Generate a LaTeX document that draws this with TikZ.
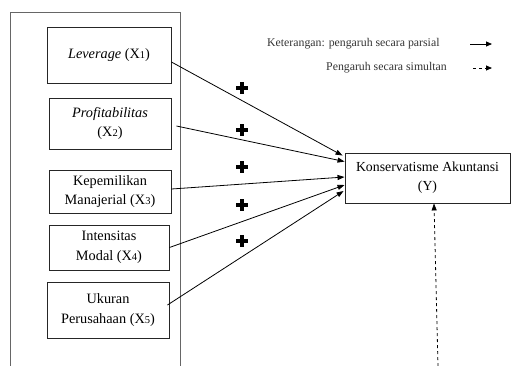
\documentclass[tikz,border=0pt]{standalone}
\usepackage{fontspec}
\setmainfont{Liberation Serif}
\usetikzlibrary{arrows.meta,calc}
\begin{document}
\begin{tikzpicture}[x=1pt,y=-1pt,
  varbox/.style={draw=black!85,line width=0.9pt,align=center,inner sep=0pt,font=\fontsize{14.3}{19.5}\selectfont},
  conn/.style={line width=0.8pt,-{Triangle[length=7pt,width=5pt]}},
  plusbar/.style={line width=4pt},
  legend/.style={font=\fontsize{11.8}{13}\selectfont,inner sep=0pt,text=black!80}]
\useasboundingbox (0,0) rectangle (511,365);
% outer frame
\draw[black!60,line width=1pt] (10,366) -- (10,12) -- (180,12) -- (180,366);
\newcommand{\sm}[1]{{\fontsize{10.5}{12}\selectfont #1}}
\node[varbox,minimum width=124pt,minimum height=56pt] (b1) at (109,55) {\textit{Leverage} (X\sm{1})};
\node[varbox,minimum width=122pt,minimum height=51pt] (b2) at (110,123.5) {\textit{Profitabilitas}\\(X\sm{2})};
\node[varbox,minimum width=122pt,minimum height=43pt] (b3) at (110,191.5) {Kepemilikan\\Manajerial (X\sm{3})};
\node[varbox,minimum width=120pt,minimum height=45pt] (b4) at (109,247.5) {Intensitas\\Modal (X\sm{4})};
\node[varbox,minimum width=122pt,minimum height=56pt] (b5) at (108,310) {Ukuran\\Perusahaan (X\sm{5})};
\node[draw=black!85,line width=0.9pt,minimum width=165pt,minimum height=50pt,align=center,inner sep=0pt,font=\fontsize{13.8}{19}\selectfont] (y) at (427.5,178) {Konservatisme Akuntansi\\(Y)};
% connectors
\draw[conn] ($(b1.east)+(0,7)$) -- ($(y.north west)+(-2,3)$);
\draw[conn] ($(b2.east)+(5,2.5)$) -- ($(y.north west)+(0,9)$);
\draw[conn] ($(b3.east)+(0,-2.5)$) -- ($(y.west)+(0,-1)$);
\draw[conn] (b4.east) -- ($(y.west)+(0,7)$);
\draw[conn] ($(b5.east)+(-2,-5)$) -- ($(y.west)+(-1,13)$);
% plus signs
\foreach \py in {88,130,167,205,241}{
  \draw[plusbar] (236,\py) -- (248,\py);
  \draw[plusbar] (242,\py-6) -- (242,\py+6);
}
% dashed simultaneous arrow
\coordinate (dbot) at (438,366);
\draw[line width=0.8pt,dashed,-{Triangle[length=7pt,width=5pt]}] (dbot) -- ($(y.south)+(6.5,0)$);
% legend
\node[legend,anchor=west] (l1) at (267,44) {Keterangan: pengaruh secara parsial};
\node[legend,anchor=west] (l2) at (326,68) {Pengaruh secara simultan};
\coordinate (a1s) at (470,44); \coordinate (a1e) at (492,44);
\coordinate (a2s) at (473,68); \coordinate (a2e) at (492,68);
\draw[line width=0.8pt,-{Triangle[length=6pt,width=5pt]}] (a1s) -- (a1e);
\draw[line width=0.8pt,dashed,-{Triangle[length=6pt,width=5pt]}] (a2s) -- (a2e);
\end{tikzpicture}
\end{document}
